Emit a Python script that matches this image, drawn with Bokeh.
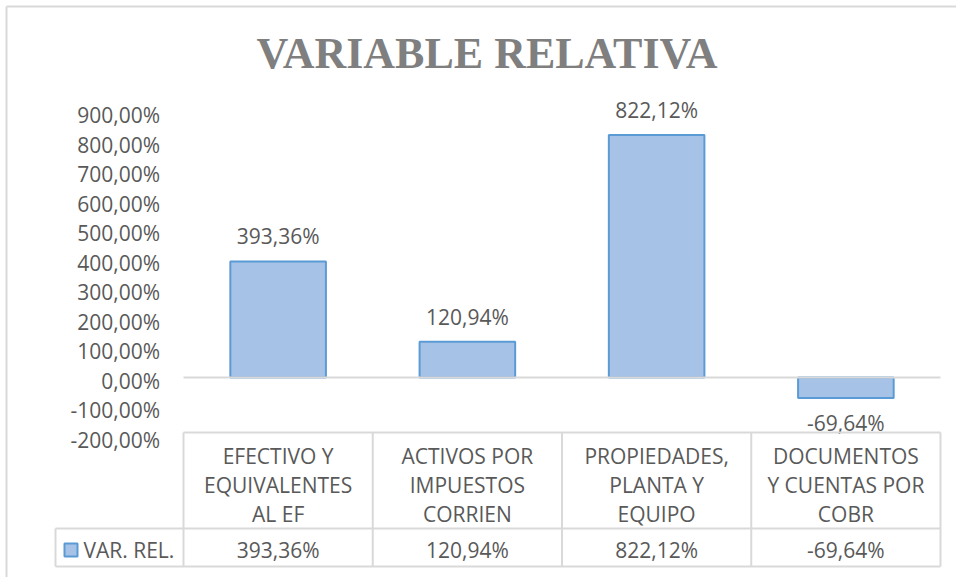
from bokeh.plotting import figure
from bokeh.models import Range1d
from bokeh.core.properties import value
from bokeh.embed import file_html
from bokeh.resources import INLINE

# ---------------- data ----------------
title_text = "VARIABLE RELATIVA"
series_name = "VAR. REL."
categories = [
    "EFECTIVO Y\nEQUIVALENTES\nAL EF",
    "ACTIVOS POR\nIMPUESTOS\nCORRIEN",
    "PROPIEDADES,\nPLANTA Y\nEQUIPO",
    "DOCUMENTOS\nY CUENTAS POR\nCOBR",
]
values = [393.36, 120.94, 822.12, -69.64]
y_ticks = [-200, -100, 0, 100, 200, 300, 400, 500, 600, 700, 800, 900]


def fmt(v):
    s = f"{v:,.2f}".replace(",", "X").replace(".", ",").replace("X", ".")
    return s + "%"


# ---------------- layout (canvas pixels) ----------------
W, H = 956, 577
X0, CW = 183.0, 189.25      # left edge of first category, px per category
Y0, KY = 377.0, 0.295       # px of zero line, px per percent unit


def dx(px):
    return (px - X0) / CW


def dy(py):
    return (Y0 - py) / KY


TXT = "#595959"
GRID = "#d9d9d9"
FILL = "#a6c3e7"
EDGE = "#5b9bd5"
FONT = value("Open Sans")
FS = "21px"

n = len(categories)

p = figure(width=W, height=H,
           x_range=Range1d(dx(0), dx(W)), y_range=Range1d(dy(H), dy(0)),
           output_backend="svg", toolbar_location=None, min_border=0,
           x_axis_location=None, y_axis_location=None)
p.grid.visible = False
p.outline_line_color = None
p.background_fill_color = "white"
p.border_fill_color = "white"

# chart border (left & top)
p.segment(x0=[dx(6), dx(6)], y0=[dy(6), dy(6)], x1=[dx(6), dx(W)], y1=[dy(H), dy(6)],
          line_color=GRID, line_width=2)

# title
p.text(x=[dx(486.5)], y=[dy(53)], text=[title_text], text_align="center",
       text_baseline="middle", text_font=value("Liberation Serif"),
       text_font_style="bold", text_font_size="44px", text_color="#7f7f7f")

# y tick labels
p.text(x=[dx(159.5)] * len(y_ticks), y=[t - 3 / KY for t in y_ticks],
       text=[fmt(t) for t in y_ticks], text_align="right", text_baseline="middle",
       text_font=FONT, text_font_size=FS, text_color=TXT)

# bars
xs = [i + 0.5 for i in range(n)]
p.vbar(x=xs, top=values, bottom=0, width=0.505, fill_color=FILL,
       line_color=EDGE, line_width=2)

# zero line
p.segment(x0=[0], y0=[0], x1=[n], y1=[0], line_color=GRID, line_width=2)

# value labels
off = 25 / KY
p.text(x=xs, y=[v + off if v >= 0 else v - off for v in values],
       text=[fmt(v) for v in values], text_align="center", text_baseline="middle",
       text_font=FONT, text_font_size=FS, text_color=TXT)

# data table
yt, ym, yb = dy(432), dy(528), dy(566)
xl = dx(55)
sx0, sy0, sx1, sy1 = [], [], [], []
for (a, b, y) in [(0, n, yt), (xl, n, ym), (xl, n, yb)]:
    sx0.append(a); sx1.append(b); sy0.append(y); sy1.append(y)
for i in range(n + 1):
    sx0.append(i); sx1.append(i); sy0.append(yt); sy1.append(yb)
sx0.append(xl); sx1.append(xl); sy0.append(ym); sy1.append(yb)
p.segment(x0=sx0, y0=sy0, x1=sx1, y1=sy1, line_color=GRID, line_width=2)

# category header text
hx, hy, ht = [], [], []
line_px = 29
for i, c in enumerate(categories):
    lines = c.split("\n")
    k = len(lines)
    for j, s in enumerate(lines):
        hx.append(i + 0.5)
        hy.append(dy(484 + (j - (k - 1) / 2) * line_px))
        ht.append(s)
p.text(x=hx, y=hy, text=ht, text_align="center", text_baseline="middle",
       text_font=FONT, text_font_size=FS, text_color=TXT)

# value row
p.text(x=xs, y=[dy(549)] * n, text=[fmt(v) for v in values], text_align="center",
       text_baseline="middle", text_font=FONT, text_font_size=FS, text_color=TXT)

# legend key
p.rect(x=[dx(70.5)], y=[dy(549.5)], width=13, height=13, width_units="screen",
       height_units="screen", fill_color=FILL, line_color=EDGE, line_width=2)
p.text(x=[dx(83)], y=[dy(549)], text=[series_name], text_align="left",
       text_baseline="middle", text_font=FONT, text_font_size=FS, text_color=TXT)

open("out.html", "w").write(file_html(p, INLINE))
